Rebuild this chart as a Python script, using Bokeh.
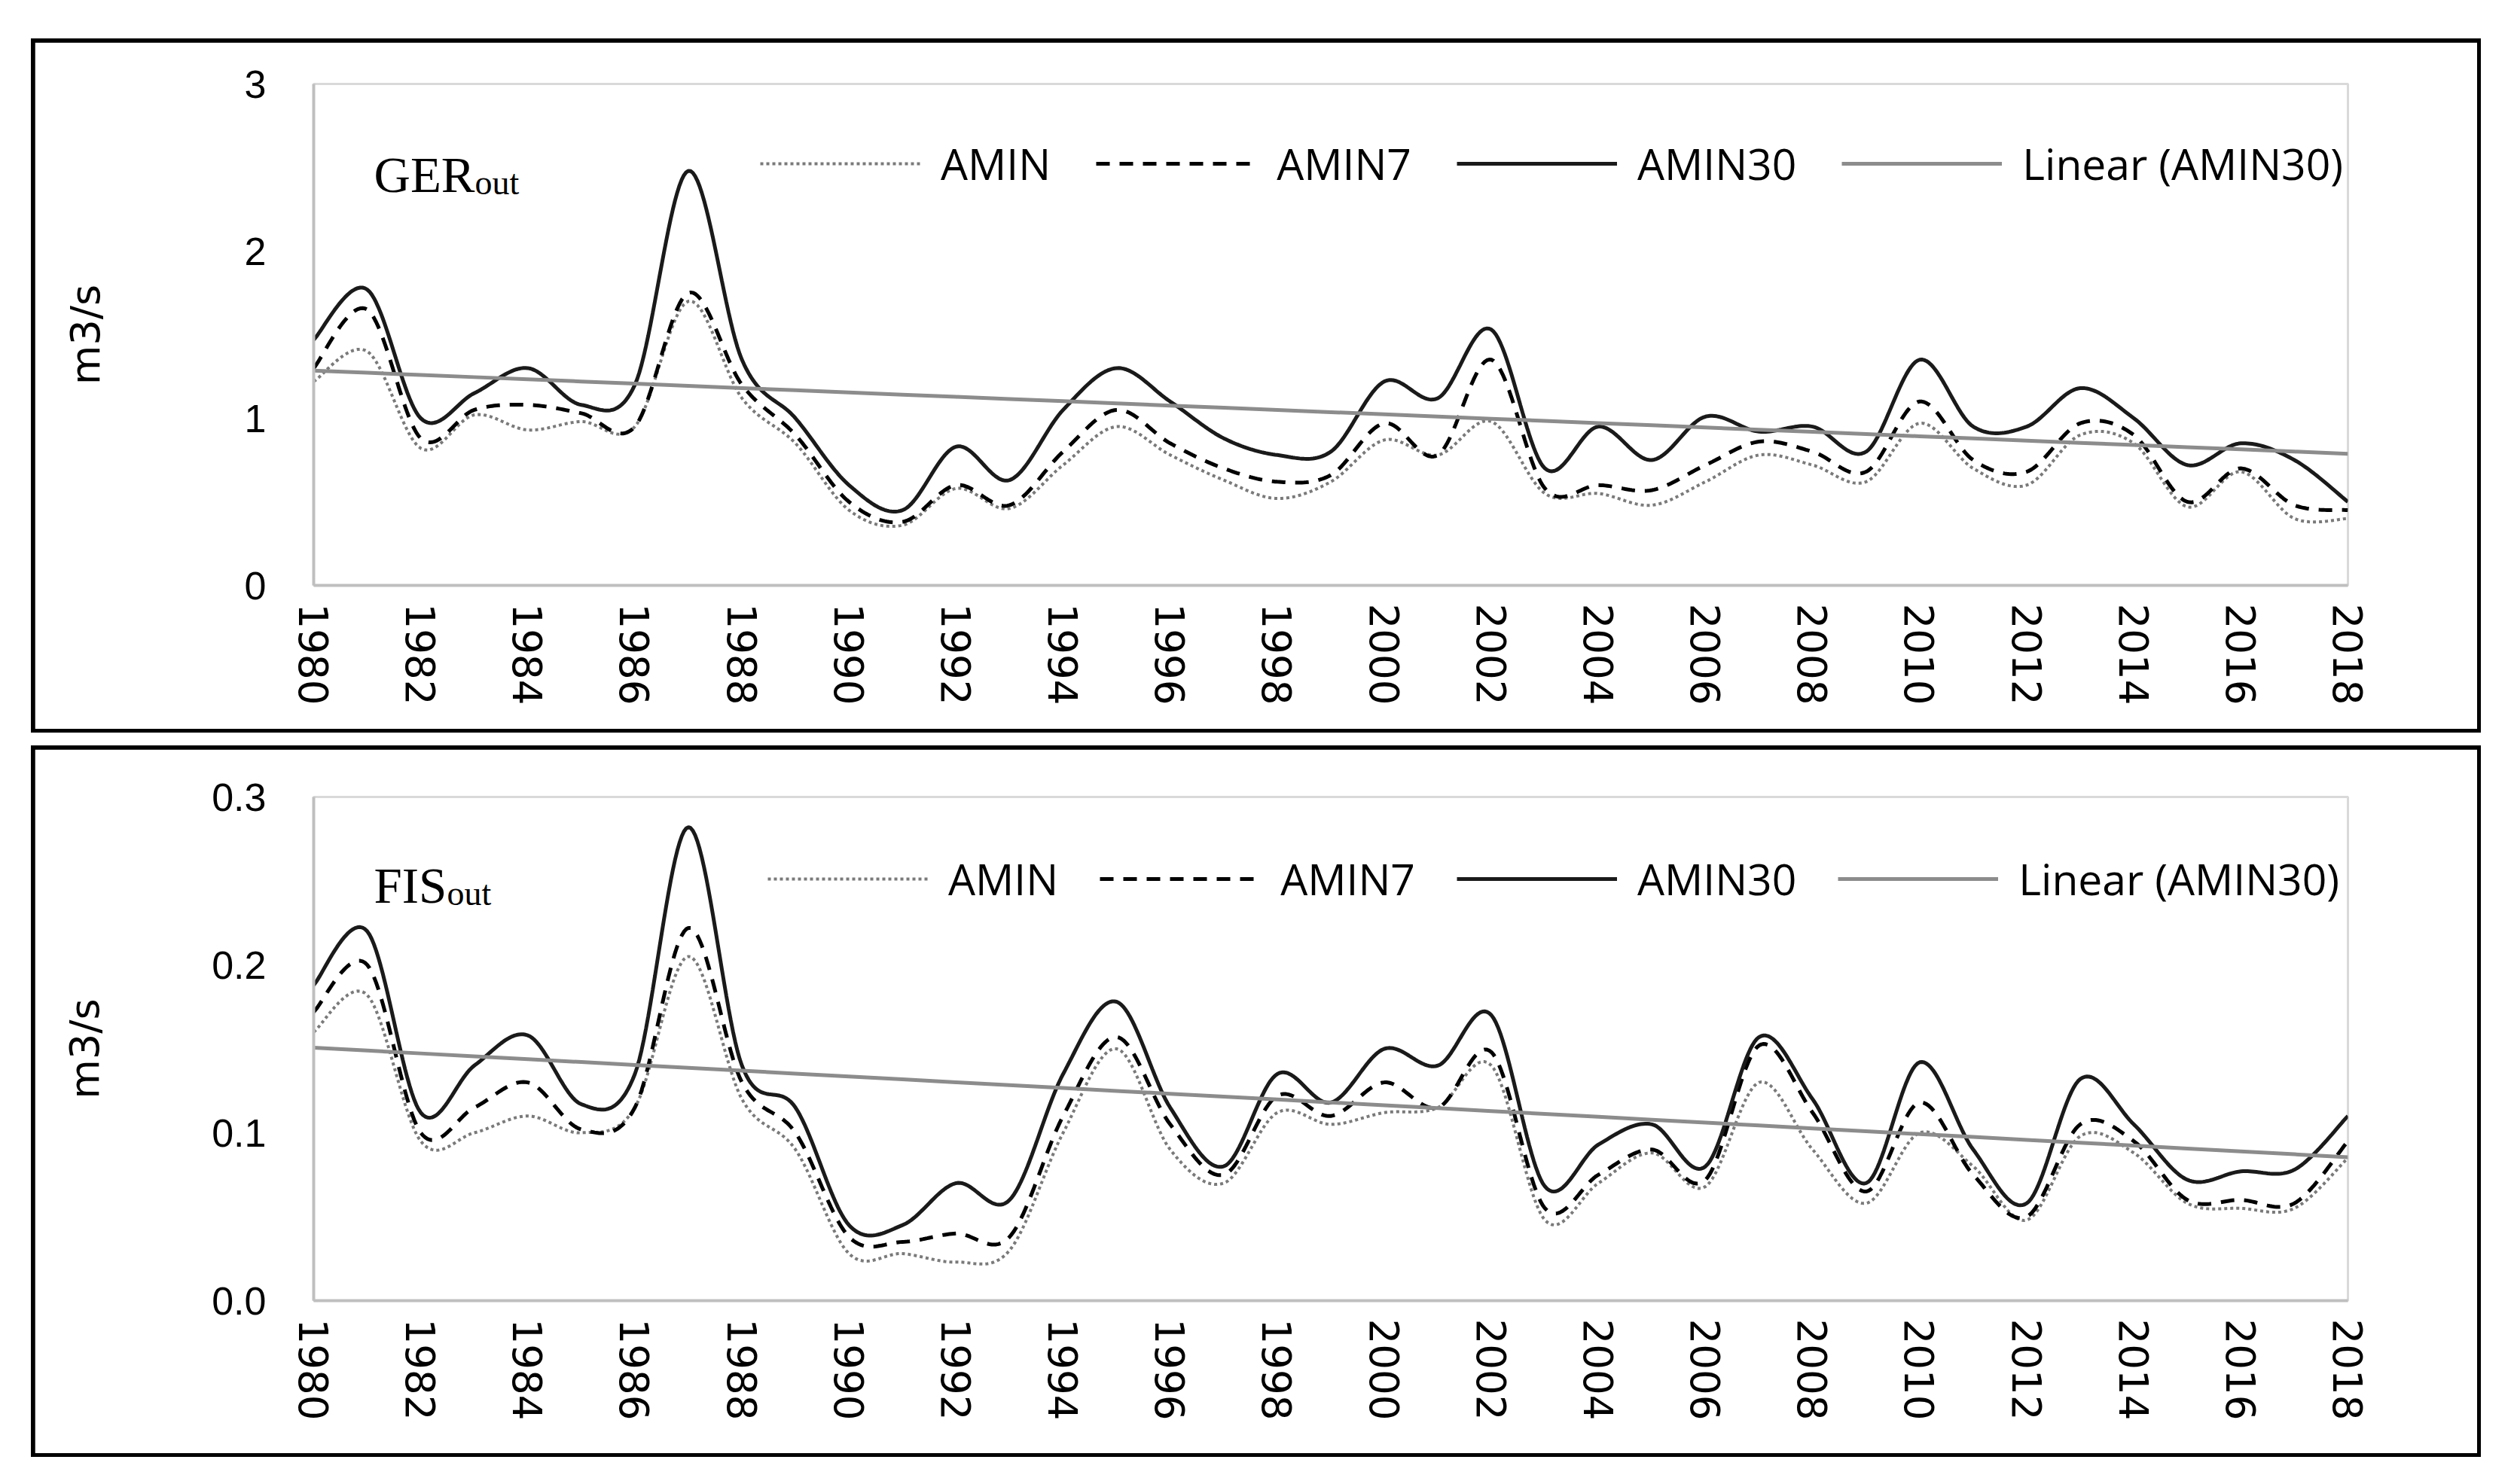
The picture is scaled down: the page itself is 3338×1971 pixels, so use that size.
import numpy as np
from bokeh.plotting import figure
from bokeh.models import (Range1d, FixedTicker, PrintfTickFormatter, Legend,
                          LegendItem, Label)
from bokeh.layouts import column
from bokeh.embed import file_html
from bokeh.resources import INLINE

# ---------------- data ----------------
years = list(range(1980, 2019))
xticks = list(range(1980, 2019, 2))
series_names = ["AMIN", "AMIN7", "AMIN30", "Linear (AMIN30)"]

ger_amin = [1.22, 1.40, 0.82, 1.02, 0.93, 0.98, 0.95, 1.70, 1.12, 0.85,
            0.45, 0.36, 0.58, 0.46, 0.72, 0.95, 0.78, 0.63, 0.52, 0.62,
            0.87, 0.78, 0.98, 0.55, 0.55, 0.48, 0.62, 0.78, 0.72, 0.62,
            0.97, 0.70, 0.60, 0.90, 0.85, 0.47, 0.68, 0.40, 0.40]
ger_amin7 = [1.30, 1.65, 0.88, 1.05, 1.08, 1.03, 0.95, 1.75, 1.20, 0.90,
             0.50, 0.38, 0.60, 0.48, 0.80, 1.05, 0.85, 0.70, 0.62, 0.66,
             0.97, 0.78, 1.35, 0.58, 0.60, 0.57, 0.72, 0.86, 0.80, 0.68,
             1.10, 0.75, 0.68, 0.97, 0.90, 0.50, 0.70, 0.48, 0.45]
ger_amin30 = [1.47, 1.77, 1.00, 1.15, 1.30, 1.08, 1.20, 2.48, 1.35, 1.00,
              0.60, 0.45, 0.83, 0.63, 1.05, 1.30, 1.10, 0.88, 0.78, 0.80,
              1.22, 1.12, 1.53, 0.70, 0.95, 0.75, 1.01, 0.92, 0.95, 0.80,
              1.35, 0.95, 0.95, 1.18, 1.00, 0.72, 0.85, 0.75, 0.50]

fis_amin = [0.160, 0.182, 0.095, 0.100, 0.110, 0.100, 0.115, 0.205, 0.120, 0.090,
            0.028, 0.028, 0.023, 0.030, 0.100, 0.150, 0.090, 0.070, 0.112, 0.105,
            0.112, 0.115, 0.140, 0.048, 0.070, 0.088, 0.068, 0.130, 0.090, 0.058,
            0.100, 0.080, 0.048, 0.098, 0.088, 0.058, 0.055, 0.055, 0.085]
fis_amin7 = [0.172, 0.200, 0.100, 0.115, 0.130, 0.102, 0.115, 0.222, 0.130, 0.100,
             0.038, 0.035, 0.040, 0.038, 0.110, 0.157, 0.105, 0.075, 0.122, 0.110,
             0.130, 0.115, 0.148, 0.055, 0.075, 0.090, 0.072, 0.152, 0.112, 0.065,
             0.118, 0.075, 0.050, 0.105, 0.095, 0.060, 0.060, 0.058, 0.095]
fis_amin30 = [0.188, 0.220, 0.112, 0.140, 0.158, 0.117, 0.135, 0.282, 0.140, 0.115,
              0.045, 0.045, 0.070, 0.060, 0.135, 0.178, 0.115, 0.080, 0.135, 0.118,
              0.150, 0.140, 0.170, 0.068, 0.093, 0.105, 0.080, 0.157, 0.120, 0.070,
              0.142, 0.090, 0.058, 0.132, 0.105, 0.072, 0.077, 0.078, 0.110]

ger_yticks = [0, 1, 2, 3]
fis_yticks = [0.0, 0.1, 0.2, 0.3]


def smooth(xs, ys, n=24):
    """Excel-like smoothed line (Catmull-Rom Bezier) through the data points."""
    x = np.asarray(xs, float)
    y = np.asarray(ys, float)
    xp = np.concatenate([[x[0]], x, [x[-1]]])
    yp = np.concatenate([[y[0]], y, [y[-1]]])
    t = np.linspace(0, 1, n, endpoint=False)[:, None]
    ox, oy = [], []
    for i in range(len(x) - 1):
        p0x, p0y = xp[i + 1], yp[i + 1]
        p3x, p3y = xp[i + 2], yp[i + 2]
        c1x = p0x + (xp[i + 2] - xp[i]) / 6.0
        c1y = p0y + (yp[i + 2] - yp[i]) / 6.0
        c2x = p3x - (xp[i + 3] - xp[i + 1]) / 6.0
        c2y = p3y - (yp[i + 3] - yp[i + 1]) / 6.0
        b0 = (1 - t) ** 3
        b1 = 3 * (1 - t) ** 2 * t
        b2 = 3 * (1 - t) * t ** 2
        b3 = t ** 3
        ox.append((b0 * p0x + b1 * c1x + b2 * c2x + b3 * p3x).ravel())
        oy.append((b0 * p0y + b1 * c1y + b2 * c2y + b3 * p3y).ravel())
    ox.append(np.array([x[-1]]))
    oy.append(np.array([y[-1]]))
    return np.concatenate(ox), np.concatenate(oy)


FW = 3243   # inner width of each black box
BORDER = 5


def make_panel(height, ymax, yticks, fmt, a, a7, a30, name, frame_top,
               frame_bottom_border, label_standoff, leg_x, leg_spacing, name_y):
    p = figure(width=FW, height=height, output_backend="svg", toolbar_location=None,
               x_range=Range1d(1980, 2018), y_range=Range1d(0, ymax),
               min_border_left=370, min_border_right=172,
               min_border_top=frame_top, min_border_bottom=frame_bottom_border,
               background_fill_color="white", border_fill_color="white",
               margin=(BORDER, BORDER, BORDER, BORDER))
    p.outline_line_color = "#d9d9d9"
    p.outline_line_width = 3
    p.xgrid.visible = False
    p.ygrid.visible = False

    for ax in (p.xaxis, p.yaxis):
        ax.axis_line_color = "#bfbfbf"
        ax.axis_line_width = 4
        ax.major_tick_line_color = None
        ax.minor_tick_line_color = None
        ax.major_tick_out = 0
        ax.major_tick_in = 0
        ax.major_label_text_color = "black"

    p.xaxis.ticker = FixedTicker(ticks=xticks)
    p.xaxis.major_label_orientation = "vertical"
    p.xaxis.major_label_standoff = 24
    p.xaxis.major_label_text_font = "DejaVu Sans"
    p.xaxis.major_label_text_font_size = "53px"

    p.yaxis.ticker = FixedTicker(ticks=yticks)
    p.yaxis.formatter = PrintfTickFormatter(format=fmt)
    p.yaxis.major_label_standoff = 63
    p.yaxis.major_label_text_font = "Liberation Sans"
    p.yaxis.major_label_text_font_size = "52px"
    p.yaxis.axis_label = "m3/s"
    p.yaxis.axis_label_text_font = "DejaVu Sans"
    p.yaxis.axis_label_text_font_size = "54px"
    p.yaxis.axis_label_text_font_style = "normal"
    p.yaxis.axis_label_text_color = "black"
    p.yaxis.axis_label_standoff = label_standoff

    sx, sy = smooth(years, a)
    r1 = p.line(sx, sy, line_color="#7a7a7a", line_width=4, line_dash="4 4")
    sx, sy = smooth(years, a7)
    r2 = p.line(sx, sy, line_color="black", line_width=5, line_dash="18 13")
    sx, sy = smooth(years, a30)
    r3 = p.line(sx, sy, line_color="#1a1a1a", line_width=5)
    slope, intercept = np.polyfit(np.asarray(years, float), np.asarray(a30, float), 1)
    trend = [slope * yr + intercept for yr in years]
    r4 = p.line(years, trend, line_color="#8c8c8c", line_width=5)

    legend = Legend(items=[LegendItem(label=series_names[0], renderers=[r1]),
                           LegendItem(label=series_names[1], renderers=[r2]),
                           LegendItem(label=series_names[2], renderers=[r3]),
                           LegendItem(label=series_names[3], renderers=[r4])],
                    orientation="horizontal", location=(leg_x, 521),
                    glyph_width=213, glyph_height=40, label_standoff=27,
                    spacing=leg_spacing, padding=0, margin=0,
                    border_line_color=None, background_fill_alpha=0,
                    label_text_font="Open Sans", label_text_font_size="57px",
                    label_text_color="black")
    p.add_layout(legend)

    main_w = {"GER": 134, "FIS": 97}[name]
    p.add_layout(Label(x=80, y=name_y, x_units="screen", y_units="screen", text=name,
                       text_font="Liberation Serif", text_font_size="67px",
                       text_color="black", text_baseline="alphabetic"))
    p.add_layout(Label(x=80 + main_w, y=name_y - 11, x_units="screen", y_units="screen",
                       text="out", text_font="Liberation Serif", text_font_size="46px",
                       text_color="black", text_baseline="alphabetic"))
    return p


p1 = make_panel(912, 3, ger_yticks, "%d", ger_amin, ger_amin7, ger_amin30, "GER",
                55, 191, 177, 593, 60, 546)
p2 = make_panel(935, 0.3, fis_yticks, "%.1f", fis_amin, fis_amin7, fis_amin30, "FIS",
                63, 203, 134, 603, 55, 552)

box1 = column(p1, styles={"background-color": "black"}, margin=(51, 0, 0, 41))
box2 = column(p2, styles={"background-color": "black"}, margin=(17, 0, 0, 41))
layout = column(box1, box2, spacing=0)
open("out.html", "w").write(file_html(layout, INLINE))
